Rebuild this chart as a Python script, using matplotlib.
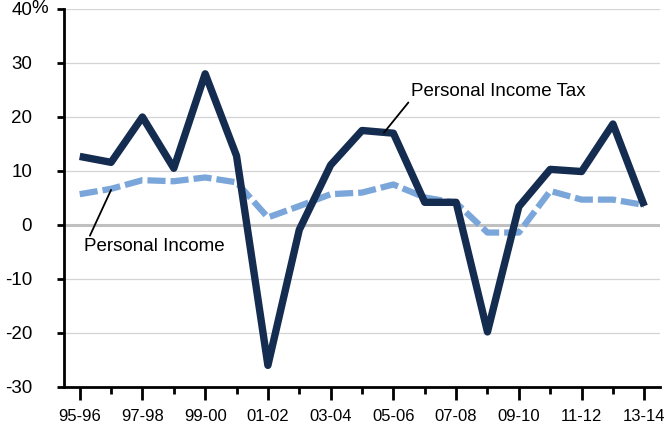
import matplotlib.pyplot as plt
from matplotlib import transforms

years = ['95-96', '96-97', '97-98', '98-99', '99-00', '00-01', '01-02',
         '02-03', '03-04', '04-05', '05-06', '06-07', '07-08', '08-09',
         '09-10', '10-11', '11-12', '12-13', '13-14']
income_tax = [12.7, 11.6, 20.0, 10.5, 28.0, 12.8, -26.0, -0.9, 11.1, 17.5,
              17.0, 4.2, 4.2, -19.8, 3.4, 10.3, 9.9, 18.7, 3.5]
personal_income = [5.7, 6.7, 8.3, 8.1, 8.8, 7.9, 1.4, 3.5, 5.7, 6.0, 7.5,
                   5.1, 4.1, -1.4, -1.4, 6.3, 4.7, 4.7, 3.7]
yticks = [-30, -20, -10, 0, 10, 20, 30, 40]

TAX_COLOR = '#142c50'
INCOME_COLOR = '#7ba6da'

plt.rcParams['font.family'] = ['Liberation Sans', 'DejaVu Sans']

fig, ax = plt.subplots(figsize=(6.71, 4.24), dpi=100)
fig.subplots_adjust(left=0.0954, right=0.9836, top=0.9788, bottom=0.0873)

x = list(range(len(years)))

# gridlines, zero line a bit heavier
for v in yticks:
    if v == 0:
        ax.axhline(v, color='#c0c0c0', lw=2.2, zorder=1)
    elif v != -30:
        ax.axhline(v, color='#d4d4d4', lw=0.9, zorder=1)

ax.plot(x, personal_income, color=INCOME_COLOR, lw=4.5,
        ls=(0, (2.9, 0.8)), dash_joinstyle='round', zorder=2)
ax.plot(x, income_tax, color=TAX_COLOR, lw=5.3, solid_joinstyle='round',
        solid_capstyle='butt', zorder=3)

ax.set_xlim(-0.5, len(years) - 0.5)
ax.set_ylim(-30, 40)

ax.set_yticks(yticks)
ax.set_yticklabels([str(v) for v in yticks])
ax.tick_params(axis='y', length=5, width=2, pad=18, labelsize=13.5)

ax.set_xticks(x[::2])
ax.set_xticklabels(years[::2])
ax.set_xticks(x[1::2], minor=True)
ax.tick_params(axis='x', which='major', length=9.5, width=2, pad=6,
               labelsize=12)
ax.tick_params(axis='x', which='minor', length=5, width=2)

for side in ['top', 'right']:
    ax.spines[side].set_visible(False)
for side in ['left', 'bottom']:
    ax.spines[side].set_linewidth(2)
    ax.spines[side].set_zorder(4)

# the "%" hanging after the 40 label
trans = transforms.blended_transform_factory(fig.transFigure, ax.transData)
ax.text(31 / 671, 40, '%', transform=trans, ha='left', va='center',
        fontsize=13.5)

ax.annotate('Personal Income', xy=(1.0, 6.5), xytext=(0.15, -2.5),
            fontsize=13.5, ha='left', va='top',
            arrowprops=dict(arrowstyle='-', color='black', lw=1.3,
                            shrinkA=0, shrinkB=0,
                            relpos=(0.03, 1.0)))
ax.annotate('Personal Income Tax', xy=(9.7, 17.1), xytext=(10.55, 23.2),
            fontsize=13.5, ha='left', va='bottom',
            arrowprops=dict(arrowstyle='-', color='black', lw=1.3,
                            shrinkA=0, shrinkB=0,
                            relpos=(0.0, 0.0)))

fig.savefig('out.png', dpi=100)
